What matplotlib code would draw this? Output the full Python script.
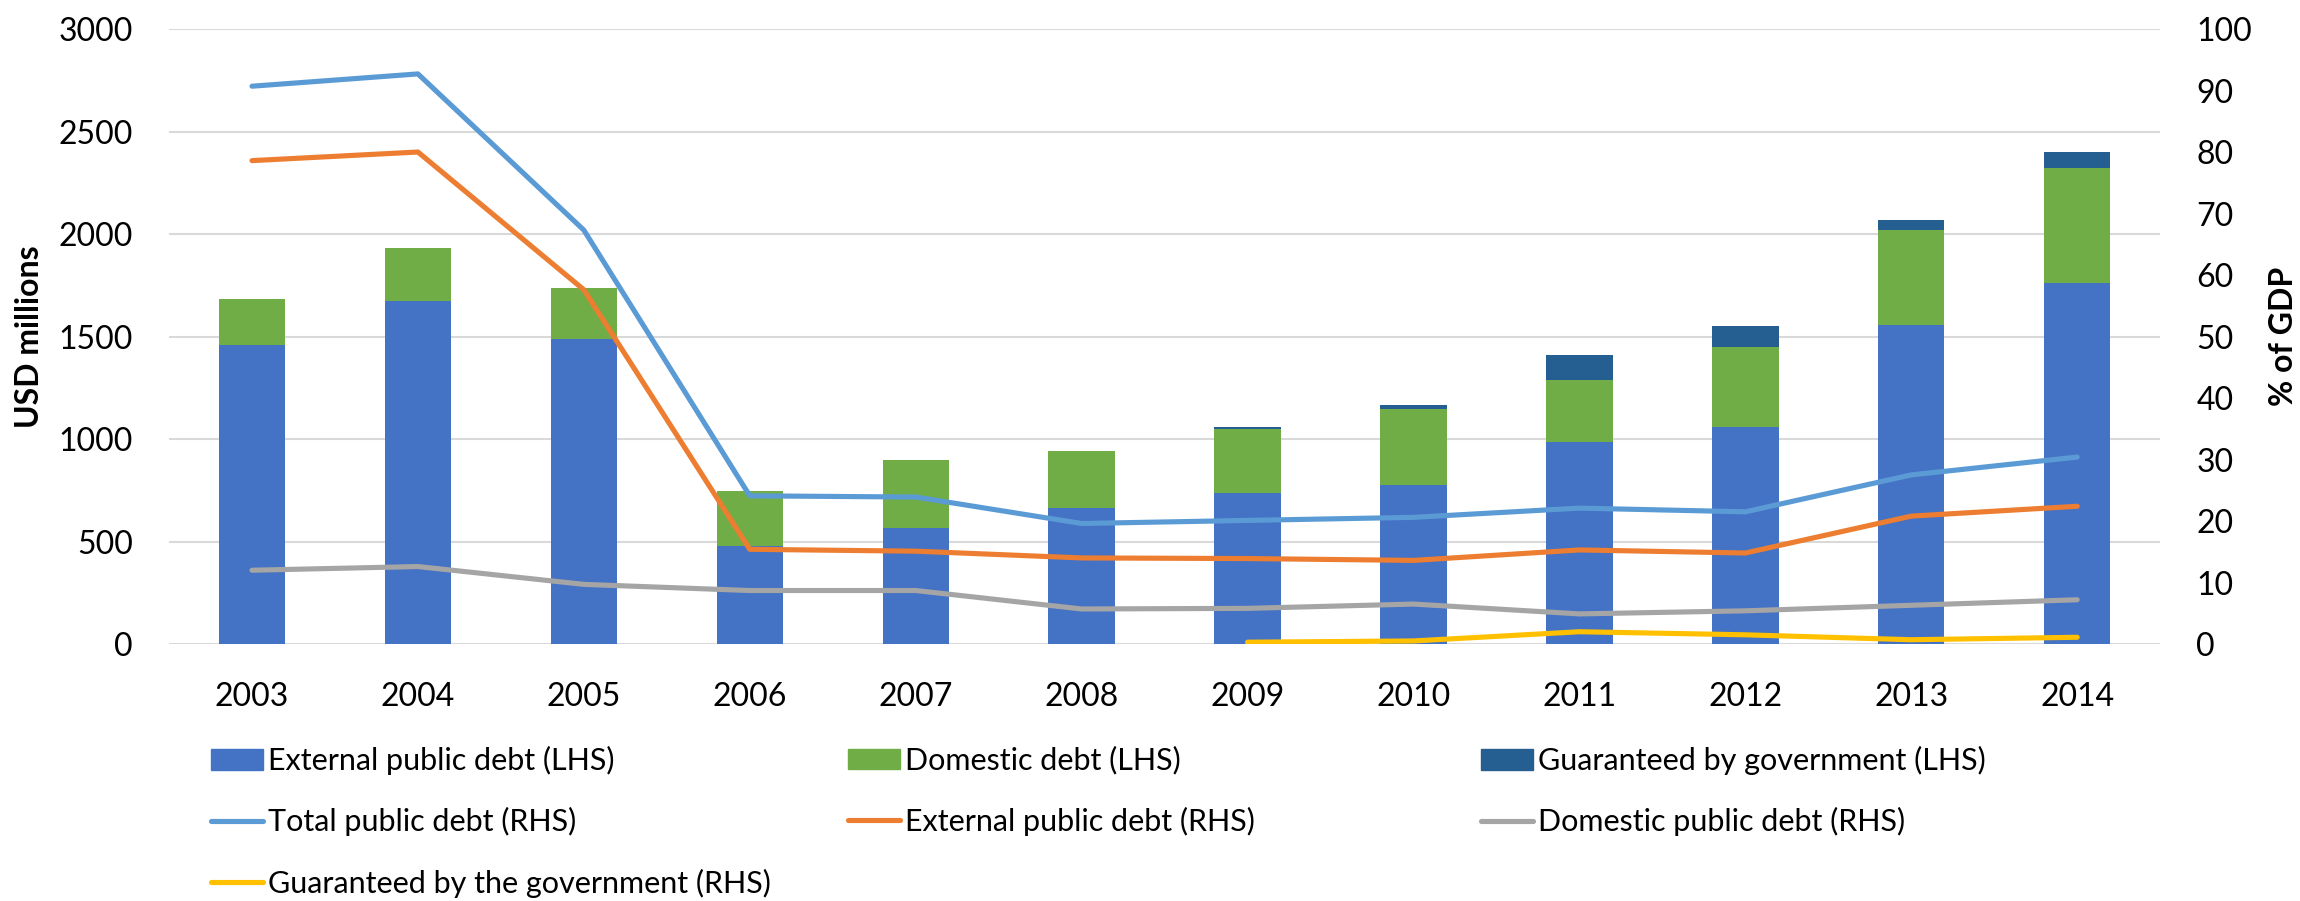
import numpy as np
import matplotlib
matplotlib.use("Agg")
import matplotlib.pyplot as plt
from matplotlib.patches import Patch
from matplotlib.lines import Line2D

plt.rcParams['font.family'] = ['Lato', 'DejaVu Sans']

years = ['2003', '2004', '2005', '2006', '2007', '2008',
         '2009', '2010', '2011', '2012', '2013', '2014']

# USD millions (left axis, stacked bars)
external_usd = [1457, 1672, 1486, 479, 568, 665, 737, 775, 984, 1060, 1556, 1759]
domestic_usd = [226, 262, 249, 268, 331, 275, 310, 371, 302, 390, 466, 563]
guaranteed_usd = [0, 0, 0, 0, 0, 0, 13, 19, 126, 102, 45, 76]

# % of GDP (right axis, lines)
total_pct = [90.7, 92.7, 67.3, 24.1, 23.9, 19.6, 20.1, 20.6, 22.1, 21.5, 27.5, 30.4]
external_pct = [78.6, 80.0, 57.6, 15.4, 15.1, 14.0, 13.9, 13.6, 15.3, 14.8, 20.8, 22.4]
domestic_pct = [12.0, 12.6, 9.7, 8.7, 8.7, 5.7, 5.8, 6.5, 4.9, 5.4, 6.3, 7.2]
guaranteed_pct = [np.nan, np.nan, np.nan, np.nan, np.nan, np.nan, 0.3, 0.5, 2.0, 1.5, 0.7, 1.1]

c_ext, c_dom, c_gua = '#4472C4', '#70AD47', '#255E91'
l_tot, l_ext, l_dom, l_gua = '#5B9BD5', '#ED7D31', '#A5A5A5', '#FFC000'

fig = plt.figure(figsize=(23, 9.01), dpi=100)
ax = fig.add_axes([0.0735, 0.2852, 0.8657, 0.6826])
ax2 = ax.twinx()

x = np.arange(len(years))
w = 0.4
ext = np.array(external_usd)
dom = np.array(domestic_usd)
gua = np.array(guaranteed_usd)
ax.bar(x, ext, w, color=c_ext, zorder=2)
ax.bar(x, dom, w, bottom=ext, color=c_dom, zorder=2)
ax.bar(x, gua, w, bottom=ext + dom, color=c_gua, zorder=2)

lw = 3.7
ax2.plot(x, total_pct, color=l_tot, lw=lw, solid_capstyle='round')
ax2.plot(x, external_pct, color=l_ext, lw=lw, solid_capstyle='round')
ax2.plot(x, domestic_pct, color=l_dom, lw=lw, solid_capstyle='round')
ax2.plot(x, guaranteed_pct, color=l_gua, lw=lw, solid_capstyle='round')

ax.set_xlim(-0.5, len(years) - 0.5)
ax.set_ylim(0, 3000)
ax.set_yticks(np.arange(0, 3001, 500))
ax2.set_ylim(0, 100)
ax2.set_yticks(np.arange(0, 101, 10))
ax.set_xticks(x)
ax.set_xticklabels(years)

ax.grid(axis='y', color='#D9D9D9', lw=1.5, zorder=0)
ax.set_axisbelow(True)
for a in (ax, ax2):
    for s in a.spines.values():
        s.set_visible(False)
ax.tick_params(axis='both', length=0, labelsize=23)
ax.tick_params(axis='y', pad=26)
ax.tick_params(axis='x', pad=27)
ax2.tick_params(axis='y', length=0, labelsize=23, pad=26)

ax.set_ylabel('USD millions', fontsize=23, fontweight='bold', va='center')
ax.yaxis.set_label_coords(-0.0703, 0.5)
ax2.set_ylabel('% of GDP', fontsize=23, fontweight='bold', va='center')
ax2.yaxis.set_label_coords(1.0618, 0.5)

h_ext = Patch(color=c_ext)
h_dom = Patch(color=c_dom)
h_gua = Patch(color=c_gua)
h_ltot = Line2D([], [], color=l_tot, lw=lw, solid_capstyle='round')
h_lext = Line2D([], [], color=l_ext, lw=lw, solid_capstyle='round')
h_ldom = Line2D([], [], color=l_dom, lw=lw, solid_capstyle='round')
h_lgua = Line2D([], [], color=l_gua, lw=lw, solid_capstyle='round')

columns = [
    (0.0917, [h_ext, h_ltot, h_lgua],
     ['External public debt (LHS)', 'Total public debt (RHS)', 'Guaranteed by the government (RHS)']),
    (0.3687, [h_dom, h_lext],
     ['Domestic debt (LHS)', 'External public debt (RHS)']),
    (0.6439, [h_gua, h_ldom],
     ['Guaranteed by government (LHS)', 'Domestic public debt (RHS)']),
]
for xpos, handles, labels in columns:
    fig.legend(handles, labels, loc='upper left', bbox_to_anchor=(xpos, 0.172),
               frameon=False, fontsize=22, handlelength=1.7, handleheight=0.65,
               handletextpad=0.17, borderpad=0, borderaxespad=0, labelspacing=1.05)

fig.savefig('out.png', dpi=100)
